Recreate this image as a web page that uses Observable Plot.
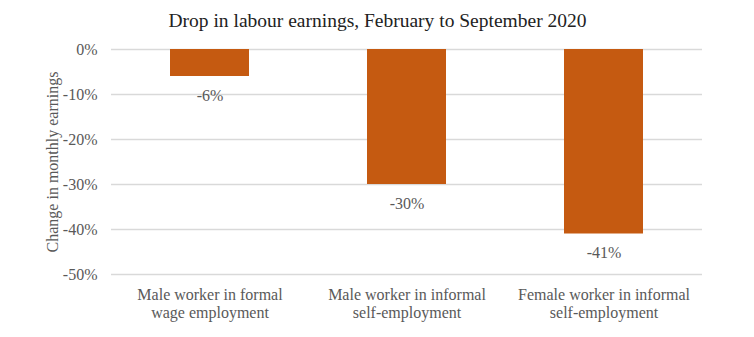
<!DOCTYPE html>
<html>
<head>
<meta charset="utf-8">
<script src="https://cdn.jsdelivr.net/npm/d3@7"></script>
<script src="https://cdn.jsdelivr.net/npm/@observablehq/plot@0.6"></script>
<style>
  body { margin: 0; background: #fff; }
</style>
</head>
<body>
<div id="chart"></div>
<script>
const categories = [
  "Male worker in formal\nwage employment",
  "Male worker in informal\nself-employment",
  "Female worker in informal\nself-employment"
];
const values = [-6, -30, -41];
const yTicks = [0, -10, -20, -30, -40, -50];
const title = "Drop in labour earnings, February to September 2020";
const yLabel = "Change in monthly earnings";

const data = categories.map((c, i) => ({category: c, value: values[i]}));
const textColor = "#595959";
const serif = "Liberation Serif";

const chart = Plot.plot({
  width: 754,
  height: 337,
  marginTop: 49,
  marginBottom: 63,
  marginLeft: 111,
  marginRight: 52,
  style: {fontFamily: serif, fontSize: "15px", color: textColor, background: "#fff"},
  x: {domain: categories, paddingInner: 0.6, paddingOuter: 0.3},
  y: {domain: [-50, 0]},
  marks: [
    Plot.gridY(yTicks, {stroke: "#d9d9d9", strokeOpacity: 1, strokeWidth: 1.5}),
    Plot.barY(data, {x: "category", y1: 0, y2: "value", fill: "#C55A11"}),
    Plot.text(data, {x: "category", y: "value", text: d => d.value + "%", dy: 19, fill: textColor, fontSize: 16, fontFamily: serif}),
    Plot.axisY(yTicks, {tickSize: 0, tickPadding: 14, tickFormat: d => d + "%", fontSize: 16, fill: textColor, fontFamily: serif, label: null}),
    Plot.text([yLabel], {frameAnchor: "left", textAnchor: "middle", lineAnchor: "middle", rotate: -90, dx: -59, fill: textColor, fontSize: 16, fontFamily: serif}),
    Plot.axisX({tickSize: 0, tickPadding: 12, fontSize: 16, fill: textColor, fontFamily: serif, lineHeight: 1.15, label: null}),
    Plot.text([title], {frameAnchor: "top", lineAnchor: "middle", dx: -29.5, dy: -29, fill: "#222", fontSize: 19.5, fontFamily: serif})
  ]
});
document.getElementById("chart").appendChild(chart);
</script>
</body>
</html>
